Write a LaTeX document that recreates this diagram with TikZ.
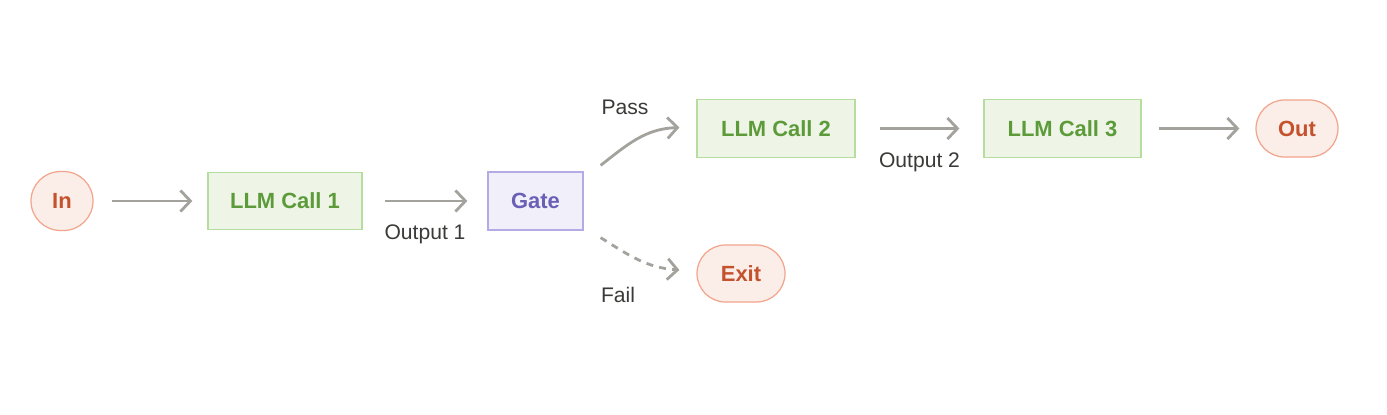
\documentclass[tikz,border=0pt]{standalone}
\usepackage{fontspec}
\setmainfont{Liberation Sans}
\usepackage{tikz}
\usetikzlibrary{arrows.meta, positioning}
\definecolor{termfill}{HTML}{FBEEE9}
\definecolor{termdraw}{HTML}{F2A58C}
\definecolor{termtext}{HTML}{C4522D}
\definecolor{callfill}{HTML}{EEF5E7}
\definecolor{calldraw}{HTML}{B4DD9E}
\definecolor{calltext}{HTML}{5D9B3A}
\definecolor{gatefill}{HTML}{F0EFFA}
\definecolor{gatedraw}{HTML}{B3ABE3}
\definecolor{gatetext}{HTML}{6A5EB5}
\definecolor{linegray}{HTML}{A3A29C}
\definecolor{labeltext}{HTML}{3A3A38}
\tikzstyle{term} = [draw=termdraw, fill=termfill, text=termtext, rounded corners=0.57cm, line width=0.7pt, font=\fontsize{12.5}{14}\selectfont\bfseries, inner sep=0pt, minimum height=1.14cm]
\tikzstyle{call} = [draw=calldraw, fill=callfill, text=calltext, line width=0.7pt, font=\fontsize{12.5}{14}\selectfont\bfseries, inner sep=0pt, minimum height=1.15cm]
\tikzstyle{gatebox} = [draw=gatedraw, fill=gatefill, text=gatetext, line width=0.7pt, font=\fontsize{12.5}{14}\selectfont\bfseries, inner sep=0pt, minimum height=1.16cm]
\tikzstyle{line} = [draw=linegray, line width=1.6pt, -{Straight Barb[length=0.2cm, width=0.42cm, line width=1.6pt]}]
\tikzstyle{elabel} = [text=labeltext, font=\fontsize{12}{14}\selectfont]

\begin{document}
\begin{tikzpicture}
			\useasboundingbox (0,0) rectangle (27.74,8.28);
			\node [term, minimum width=1.24cm, minimum height=1.18cm, rounded corners=0.59cm] (in) at (1.24, 4.26) {In};
			\node [call, minimum width=3.08cm] (call1) at (5.70, 4.26) {LLM Call 1};
			\node [gatebox, minimum width=1.90cm] (gate) at (10.71, 4.26) {Gate};
			\node [call, minimum width=3.16cm] (call2) at (15.52, 5.71) {LLM Call 2};
			\node [call, minimum width=3.14cm] (call3) at (21.25, 5.71) {LLM Call 3};
			\node [term, minimum width=1.64cm] (out) at (25.94, 5.71) {Out};
			\node [term, minimum width=1.76cm] (exit) at (14.82, 2.81) {Exit};
			
			\path [line, shorten <=0.36cm, shorten >=0.3cm] (in) -- (call1);
			\path [line, shorten <=0.44cm, shorten >=0.4cm] (call1) -- node [elabel, below=0.34cm] {Output 1} (gate);
			\path [line] ([xshift=0.34cm, yshift=0.12cm]gate.north east) to [out=38, in=182] ([xshift=-0.34cm, yshift=0.02cm]call2.west);
			\path [line, dashed, dash pattern=on 4pt off 3.5pt] ([xshift=0.34cm, yshift=-0.14cm]gate.south east) to [out=-32, in=176] ([xshift=-0.34cm, yshift=0.07cm]exit.west);
			\path [line, shorten <=0.48cm, shorten >=0.48cm] (call2) -- node [elabel, below=0.34cm] {Output 2} (call3);
			\path [line, shorten <=0.34cm, shorten >=0.32cm] (call3) -- (out);
			\node [elabel] (pass) at (12.50, 6.14) {Pass};
			\node [elabel] (fail) at (12.36, 2.38) {Fail};
		\end{tikzpicture}
\end{document}
